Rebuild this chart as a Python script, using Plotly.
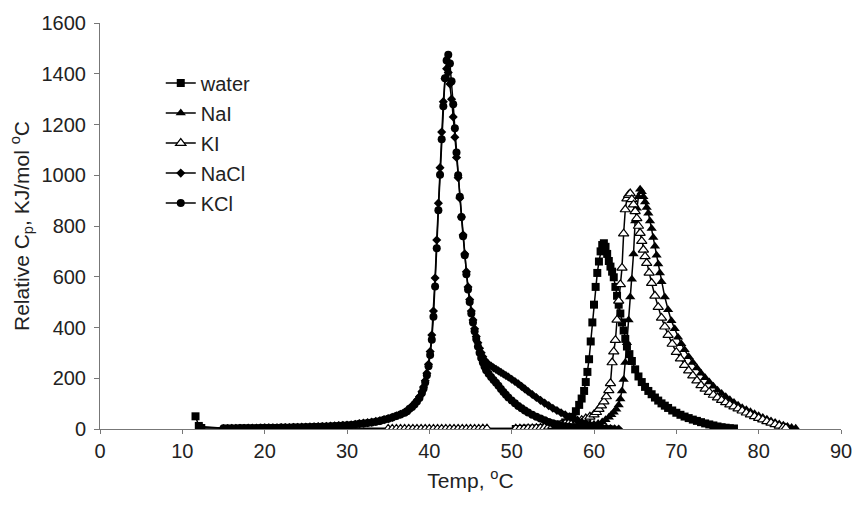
import plotly.graph_objects as go

# Relative heat capacity scans (Temp in degC, Cp in KJ/mol degC)
WATER = [
    (11.6, 50), (12.0, 12), (12.3, 4),
    (50.5, 0), (51.0, 0), (51.5, 1), (52.0, 1), (52.5, 1), (53.0, 2), (53.5, 2),
    (54.0, 3), (54.5, 5), (55.0, 8), (55.5, 12), (56.0, 18), (56.5, 26), (57.0, 36),
    (57.4, 48), (57.8, 70), (58.2, 95), (58.5, 120), (58.8, 150), (59.0, 185),
    (59.2, 225), (59.4, 275), (59.6, 345), (59.8, 420), (60.0, 490), (60.2, 560),
    (60.4, 615), (60.6, 660), (60.8, 700), (61.0, 725), (61.2, 732), (61.4, 718),
    (61.6, 690), (61.8, 662), (62.0, 640), (62.2, 620), (62.4, 598), (62.6, 560),
    (62.8, 525), (63.0, 490), (63.2, 455), (63.4, 420), (63.6, 388), (63.8, 355),
    (64.0, 325), (64.3, 295), (64.6, 268), (65.0, 235), (65.4, 207), (65.8, 185),
    (66.2, 166), (66.6, 150), (67.0, 137), (67.4, 124), (67.8, 112), (68.2, 101),
    (68.6, 92), (69.0, 83), (69.5, 73), (70.0, 64), (70.5, 56), (71.0, 49),
    (71.5, 43), (72.0, 37), (72.5, 32), (73.0, 27), (73.5, 22), (74.0, 18),
    (74.5, 14), (75.0, 10), (75.5, 7), (76.0, 5), (76.5, 3), (77.0, 2),
]

NAI = [
    (43.0, 0), (43.5, 0), (44.0, 0), (44.5, 0), (45.0, 0), (45.5, 0), (46.0, 0),
    (46.5, 0), (47.0, 0),
    (50.5, 0), (51.0, 0), (51.5, 0), (52.0, 1), (52.5, 1), (53.0, 1), (53.5, 2),
    (54.0, 2), (54.5, 3), (55.0, 3), (55.5, 4), (56.0, 5), (56.5, 6), (57.0, 7),
    (57.5, 9), (58.0, 11), (58.5, 13), (59.0, 15), (59.5, 17), (60.0, 19),
    (60.5, 22), (61.0, 28), (61.4, 36), (61.8, 46), (62.1, 56), (62.4, 66),
    (62.7, 78), (63.0, 95), (63.2, 118), (63.4, 150), (63.6, 195), (63.8, 262),
    (64.0, 340), (64.2, 430), (64.4, 520), (64.6, 590), (64.8, 690), (65.0, 820),
    (65.2, 870), (65.4, 915), (65.6, 945), (65.8, 935), (66.0, 915), (66.2, 895),
    (66.4, 873), (66.6, 850), (66.8, 820), (67.0, 790), (67.2, 755), (67.4, 720),
    (67.6, 685), (67.8, 650), (68.0, 615), (68.2, 580), (68.6, 520), (69.0, 470),
    (69.4, 427), (69.8, 395), (70.2, 362), (70.6, 336), (71.0, 312), (71.5, 285),
    (72.0, 262), (72.5, 240), (73.0, 220), (73.5, 202), (74.0, 185), (74.5, 168),
    (75.0, 153), (75.5, 140), (76.0, 127), (76.5, 115), (77.0, 104), (77.5, 94),
    (78.0, 84), (78.5, 76), (79.0, 68), (79.5, 60), (80.0, 52), (80.5, 45),
    (81.0, 38), (81.5, 32), (82.0, 26), (82.5, 20), (83.0, 15), (83.5, 10),
    (84.0, 6), (84.5, 3),
]

KI = [
    (35.0, 0), (35.5, 0), (36.0, 0), (36.5, 0), (37.0, 0), (37.5, 0), (38.0, 0),
    (38.5, 0), (39.0, 0), (39.5, 0), (40.0, 0), (40.5, 0), (41.0, 0), (41.5, 0),
    (42.0, 0), (42.5, 0), (43.0, 0), (43.5, 0), (44.0, 0), (44.5, 0), (45.0, 0),
    (45.5, 0), (46.0, 0), (46.5, 1), (47.0, 1),
    (50.5, 1), (51.0, 1), (51.5, 1), (52.0, 2), (52.5, 2), (53.0, 3), (53.5, 4),
    (54.0, 6), (54.5, 8), (55.0, 11), (55.5, 14), (56.0, 17), (56.5, 21),
    (57.0, 25), (57.5, 29), (58.0, 32), (58.5, 35), (59.0, 41), (59.5, 48),
    (60.0, 57), (60.3, 66), (60.6, 78), (60.9, 92), (61.2, 108), (61.5, 128),
    (61.8, 152), (62.0, 180), (62.2, 262), (62.4, 305), (62.6, 350), (62.8, 430),
    (63.0, 505), (63.2, 570), (63.4, 635), (63.6, 770), (63.8, 865), (64.0, 908),
    (64.2, 922), (64.4, 928), (64.6, 905), (64.8, 884), (65.0, 858), (65.2, 830),
    (65.4, 800), (65.6, 772), (65.8, 740), (66.0, 706), (66.2, 680), (66.4, 654),
    (66.7, 615), (67.0, 575), (67.4, 525), (67.8, 480), (68.2, 438), (68.6, 403),
    (69.0, 370), (69.5, 335), (70.0, 303), (70.5, 277), (71.0, 252), (71.5, 230),
    (72.0, 210), (72.5, 191), (73.0, 172), (73.5, 158), (74.0, 145), (74.5, 134),
    (75.0, 124), (75.5, 114), (76.0, 105), (76.5, 96), (77.0, 88), (77.5, 80),
    (78.0, 72), (78.5, 64), (79.0, 57), (79.5, 50), (80.0, 43), (80.5, 37),
    (81.0, 30), (81.5, 24), (82.0, 18), (82.5, 12), (83.0, 7), (83.3, 4),
]

NACL = [
    (12.2, 10), (15.0, 2), (15.5, 2), (16.0, 3), (16.5, 3), (17.0, 3), (17.5, 3),
    (18.0, 4), (18.5, 4), (19.0, 4), (19.5, 4), (20.0, 5), (20.5, 5), (21.0, 5),
    (21.5, 5), (22.0, 6), (22.5, 6), (23.0, 6), (23.5, 7), (24.0, 7), (24.5, 8),
    (25.0, 8), (25.5, 9), (26.0, 9), (26.5, 10), (27.0, 10), (27.5, 11),
    (28.0, 12), (28.5, 13), (29.0, 14), (29.5, 15), (30.0, 16), (30.5, 17),
    (31.0, 19), (31.5, 21), (32.0, 23), (32.5, 25), (33.0, 27), (33.5, 30),
    (34.0, 33), (34.5, 37), (35.0, 41), (35.5, 46), (36.0, 52), (36.5, 58),
    (37.0, 66), (37.3, 72), (37.6, 80), (37.9, 89), (38.2, 100), (38.5, 112),
    (38.8, 127), (39.1, 147), (39.3, 166), (39.5, 190), (39.7, 220), (39.9, 255),
    (40.1, 305), (40.3, 370), (40.5, 465), (40.7, 595), (40.9, 745), (41.1, 890),
    (41.3, 1030), (41.5, 1170), (41.7, 1290), (41.9, 1380), (42.1, 1420),
    (42.3, 1405), (42.5, 1360), (42.7, 1300), (42.9, 1230), (43.1, 1150),
    (43.3, 1070), (43.5, 990), (43.7, 910), (43.9, 835), (44.1, 765), (44.3, 690),
    (44.5, 620), (44.7, 560), (44.9, 510), (45.1, 465), (45.3, 430), (45.5, 395),
    (45.7, 365), (45.9, 340), (46.1, 318), (46.3, 300), (46.5, 285), (46.7, 272),
    (46.9, 262), (47.2, 255), (47.5, 248), (47.8, 241), (48.1, 235), (48.4, 229),
    (48.7, 223), (49.0, 217), (49.3, 211), (49.6, 205), (50.0, 196), (50.4, 187),
    (50.8, 178), (51.2, 168), (51.6, 158), (52.0, 148), (52.5, 136), (53.0, 124),
    (53.5, 113), (54.0, 102), (54.5, 92), (55.0, 82), (55.5, 73), (56.0, 64),
    (56.5, 56), (57.0, 48), (57.5, 40), (58.0, 33), (58.5, 27), (59.0, 22),
    (59.5, 17), (60.0, 13), (60.5, 9), (61.0, 6), (61.5, 4), (62.0, 2),
    (62.5, 1), (63.0, 0),
]

KCL = [
    (12.2, 6), (15.0, 3), (15.5, 3), (16.0, 3), (16.5, 3), (17.0, 4), (17.5, 4),
    (18.0, 4), (18.5, 4), (19.0, 4), (19.5, 5), (20.0, 5), (20.5, 5), (21.0, 5),
    (21.5, 5), (22.0, 6), (22.5, 6), (23.0, 6), (23.5, 7), (24.0, 7), (24.5, 7),
    (25.0, 8), (25.5, 8), (26.0, 9), (26.5, 9), (27.0, 10), (27.5, 10),
    (28.0, 11), (28.5, 12), (29.0, 13), (29.5, 14), (30.0, 15), (30.5, 16),
    (31.0, 18), (31.5, 21), (32.0, 22), (32.5, 24), (33.0, 26), (33.5, 29),
    (34.0, 32), (34.5, 36), (35.0, 40), (35.5, 45), (36.0, 51), (36.5, 57),
    (37.0, 64), (37.3, 70), (37.6, 80), (37.9, 87), (38.2, 97), (38.5, 108),
    (38.8, 122), (39.1, 142), (39.3, 160), (39.5, 183), (39.7, 212), (39.9, 247),
    (40.1, 292), (40.3, 352), (40.5, 442), (40.7, 562), (40.9, 712), (41.1, 862),
    (41.3, 1002), (41.5, 1142), (41.7, 1272), (41.9, 1382), (42.1, 1452),
    (42.3, 1475), (42.5, 1440), (42.7, 1370), (42.9, 1280), (43.1, 1185),
    (43.3, 1090), (43.5, 1000), (43.7, 915), (43.9, 835), (44.1, 760), (44.3, 685),
    (44.5, 610), (44.7, 550), (44.9, 500), (45.1, 455), (45.3, 420), (45.5, 385),
    (45.7, 355), (45.9, 325), (46.1, 300), (46.3, 280), (46.5, 262), (46.7, 246),
    (46.9, 232), (47.2, 218), (47.5, 205), (47.8, 193), (48.1, 182), (48.4, 170),
    (48.7, 158), (49.0, 146), (49.3, 135), (49.6, 124), (50.0, 112), (50.4, 101),
    (50.8, 91), (51.2, 82), (51.6, 73), (52.0, 65), (52.5, 56), (53.0, 48),
    (53.5, 41), (54.0, 34), (54.5, 28), (55.0, 23), (55.5, 18), (56.0, 14),
    (56.5, 11), (57.0, 8), (57.5, 6), (58.0, 4), (58.5, 3), (59.0, 2), (59.5, 2),
    (60.0, 1), (60.5, 1), (61.0, 1), (61.5, 0), (62.0, 0),
]

X_TICKS = [0, 10, 20, 30, 40, 50, 60, 70, 80, 90]
Y_TICKS = [0, 200, 400, 600, 800, 1000, 1200, 1400, 1600]

FONT = "Arial, 'Liberation Sans', sans-serif"

series = [
    ("water", WATER, dict(symbol="square", size=8, color="black")),
    ("NaI", NAI, dict(symbol="triangle-up", size=9, color="black")),
    ("KI", KI, dict(symbol="triangle-up", size=9, color="white",
                    line=dict(color="black", width=1.2))),
    ("NaCl", NACL, dict(symbol="diamond", size=7, color="black")),
    ("KCl", KCL, dict(symbol="circle", size=8, color="black")),
]

fig = go.Figure()
for name, pts, marker in series:
    t, cp = zip(*pts)
    fig.add_trace(go.Scatter(
        x=list(t), y=list(cp), name=name, mode="lines+markers",
        line=dict(color="black", width=1.5), marker=marker,
        legendgroup=name,
    ))

axis_common = dict(
    showgrid=False, zeroline=False, showline=True, linecolor="#777777",
    linewidth=1, ticks="outside", tickcolor="#777777",
    tickfont=dict(size=20, color="#222", family=FONT),
)

fig.update_layout(
    width=864, height=516,
    margin=dict(l=100, r=16, t=21, b=87),
    paper_bgcolor="white", plot_bgcolor="white",
    font=dict(family=FONT, color="#222"),
    xaxis=dict(range=[0, 90], tickvals=X_TICKS, ticklen=4,
               title=dict(text="Temp, <sup>o</sup>C", font=dict(size=21),
                          standoff=12),
               **axis_common),
    yaxis=dict(range=[0, 1600], tickvals=Y_TICKS, ticklen=5,
               ticklabelstandoff=4,
               title=dict(text="Relative C<sub>p</sub>, KJ/mol <sup>o</sup>C",
                          font=dict(size=21), standoff=6),
               **axis_common),
    legend=dict(x=0.082, y=0.90, xanchor="left", yanchor="top",
                font=dict(size=20, family=FONT, color="#222"),
                bgcolor="rgba(0,0,0,0)", traceorder="grouped",
                tracegroupgap=1, itemwidth=30),
    showlegend=True,
)

fig.write_html("out.html")
